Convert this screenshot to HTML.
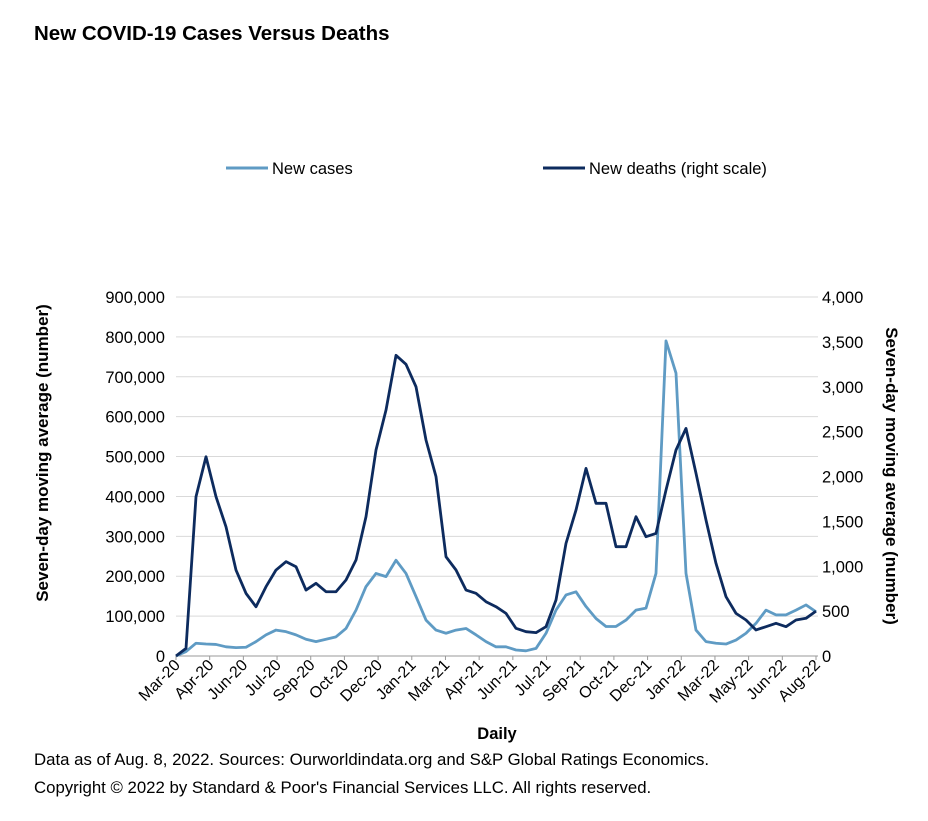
<!DOCTYPE html>
<html><head><meta charset="utf-8"><style>
body{margin:0;background:#fff;font-family:"Liberation Sans",Arial,sans-serif;}
svg text{font-family:"Liberation Sans",Arial,sans-serif;}
</style></head><body>
<svg id="chart" width="928" height="816" xmlns="http://www.w3.org/2000/svg">
<text x="34" y="40" font-size="20.5" font-weight="bold" fill="#000">New COVID-19 Cases Versus Deaths</text>
<g>
<line x1="226" y1="168" x2="268" y2="168" stroke="#5f9bc4" stroke-width="3"/>
<text x="272" y="174" font-size="16.5">New cases</text>
<line x1="543" y1="168" x2="585" y2="168" stroke="#0d2b5e" stroke-width="3"/>
<text x="589" y="174" font-size="16.5">New deaths (right scale)</text>
</g>
<g id="grid"></g><g id="axes"></g><g id="series"></g>
<text x="497" y="739" font-size="16.5" font-weight="bold" text-anchor="middle">Daily</text>
<text transform="translate(48,453) rotate(-90)" font-size="17" font-weight="bold" text-anchor="middle">Seven-day moving average (number)</text>
<text transform="translate(886,476) rotate(90)" font-size="17" font-weight="bold" text-anchor="middle">Seven-day moving average (number)</text>
<text x="34" y="765" font-size="16.8">Data as of Aug. 8, 2022. Sources: Ourworldindata.org and S&amp;P Global Ratings Economics.</text>
<text x="34" y="793" font-size="16.8">Copyright © 2022 by Standard &amp; Poor's Financial Services LLC. All rights reserved.</text>
</svg>
<script>
const monthLabels=["Mar-20","Apr-20","Jun-20","Jul-20","Sep-20","Oct-20","Dec-20","Jan-21","Mar-21","Apr-21","Jun-21","Jul-21","Sep-21","Oct-21","Dec-21","Jan-22","Mar-22","May-22","Jun-22","Aug-22"];
const leftTicks=[0,100000,200000,300000,400000,500000,600000,700000,800000,900000];
const rightTicks=[0,500,1000,1500,2000,2500,3000,3500,4000];
const casesK=[0,11,32,30,29,23,21,22,36,53,65,61,53,42,36,42,48,69,115,174,207,199,240,207,149,90,65,57,65,69,53,36,23,
23,15,13,19,57,115,153,161,124,94,74,74,90,115,120,207,790,709,207,65,36,32,30,40,57,82,115,103,103,115,128,111];
const deaths=[0,85,1775,2220,1775,1440,958,698,549,772,958,1051,995,735,810,716,716,847,1069,1552,2295,2740,3350,3250,3000,2406,1998,1106,958,735,698,605,549,
475,308,271,260,327,624,1255,1626,2090,1701,1701,1218,1218,1552,1329,1366,1849,2295,2536,2035,1515,1032,661,475,401,290,327,364,327,401,420,500];
const NS="http://www.w3.org/2000/svg";
const X0=176,X1=816,YB=656,YT=297;
const xScale=i=>X0+(X1-X0)*i/(casesK.length-1);
const yLeft=v=>YB-(YB-YT)*v/900000;
const yRight=v=>YB-(YB-YT)*v/4000;
function mk(t,a,p){const e=document.createElementNS(NS,t);for(const k in a)e.setAttribute(k,a[k]);p.appendChild(e);return e;}
const grid=document.getElementById('grid'),axes=document.getElementById('axes'),ser=document.getElementById('series');
leftTicks.forEach(v=>{
 const y=yLeft(v);
 if(v>0){const g=mk('line',{x1:X0,x2:818,y1:y,y2:y,stroke:'#d9d9d9','stroke-width':1},grid);
 
 }
 const t=mk('text',{x:165,y:y+6,'font-size':16.5,'text-anchor':'end'},axes);
 t.textContent=v.toLocaleString('en-US');
 
 
});
rightTicks.forEach(v=>{
 const t=mk('text',{x:822,y:yRight(v)+6,'font-size':16.5},axes);
 t.textContent=v.toLocaleString('en-US');
 
 
});
const base=mk('line',{x1:X0,x2:818,y1:YB,y2:YB,stroke:'#999','stroke-width':1},axes);


monthLabels.forEach((m,i)=>{
 const x=X0+(X1-X0)*i/(monthLabels.length-1);
 const tk=mk('line',{x1:x,x2:x,y1:YB,y2:YB+4,stroke:'#999'},axes);
 
 
 const t=mk('text',{transform:`translate(${x+5},${YB+10}) rotate(-45)`,'font-size':16,'text-anchor':'end'},axes);
 t.textContent=m;
 
 
});
const cp=mk('polyline',{points:casesK.map((v,i)=>xScale(i)+','+yLeft(v*1000)).join(' '),fill:'none',stroke:'#5f9bc4','stroke-width':2.8,'stroke-linejoin':'round'},ser);


const dp=mk('polyline',{points:deaths.map((v,i)=>xScale(i)+','+yRight(v)).join(' '),fill:'none',stroke:'#0d2b5e','stroke-width':2.8,'stroke-linejoin':'round'},ser);


</script>
</body></html>
